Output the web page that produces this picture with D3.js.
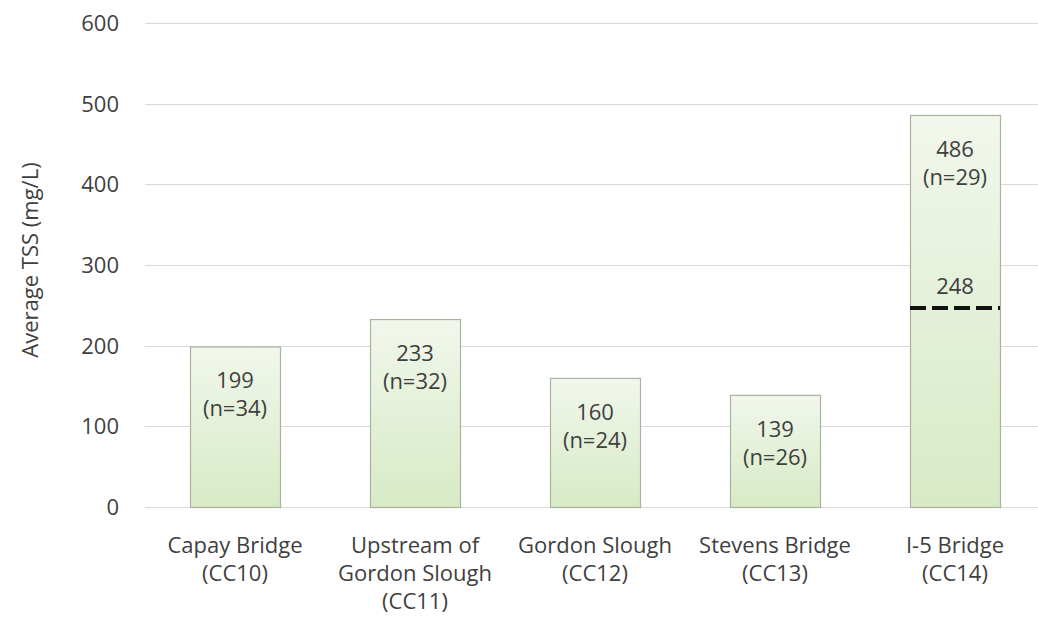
<!DOCTYPE html>
<html>
<head>
<meta charset="utf-8">
<script src="https://cdn.jsdelivr.net/npm/d3@7"></script>
<style>
  body { margin: 0; background: #fff; }
  text { font-family: "Open Sans", "Noto Sans", sans-serif; fill: #3f3f3f; }
</style>
</head>
<body>
<svg id="chart"></svg>
<script>
var width = 1038,
  height = 621,
  margin = { top: 23, right: -7, bottom: 114, left: 145 },
  fontSize = "22px";

// data
var sites = [
  ["Capay Bridge", "(CC10)"],
  ["Upstream of", "Gordon Slough", "(CC11)"],
  ["Gordon Slough", "(CC12)"],
  ["Stevens Bridge", "(CC13)"],
  ["I-5 Bridge", "(CC14)"]
];
var siteIds = ["CC10", "CC11", "CC12", "CC13", "CC14"];
var avgTss = [199, 233, 160, 139, 486];
var sampleCounts = [34, 32, 24, 26, 29];
var yTicks = [0, 100, 200, 300, 400, 500, 600];
var dashedSite = "CC14";
var dashedValue = 248;

var data = siteIds.map(function (id, i) {
  return { id: id, lines: sites[i], value: avgTss[i], n: sampleCounts[i] };
});

var svg = d3.select("#chart")
  .attr("width", width)
  .attr("height", height);

var x = d3.scaleBand()
  .domain(siteIds)
  .range([margin.left, width - margin.right])
  .paddingInner(0.5)
  .paddingOuter(0.25);

var y = d3.scaleLinear()
  .domain([0, 600])
  .range([height - margin.bottom, margin.top]);

var defs = svg.append("defs");
var grad = defs.append("linearGradient")
  .attr("id", "barFill")
  .attr("x1", 0).attr("y1", 0).attr("x2", 0).attr("y2", 1);
grad.append("stop").attr("offset", "0%").attr("stop-color", "#f1f7ec");
grad.append("stop").attr("offset", "100%").attr("stop-color", "#d7eac5");

// gridlines
svg.append("g")
  .selectAll("line")
  .data(yTicks)
  .enter().append("line")
  .attr("x1", margin.left)
  .attr("x2", width)
  .attr("y1", function (d) { return Math.round(y(d)) + 0.5; })
  .attr("y2", function (d) { return Math.round(y(d)) + 0.5; })
  .attr("stroke", "#d9d9d9")
  .attr("stroke-width", 1);

// y tick labels
svg.append("g")
  .selectAll("text")
  .data(yTicks)
  .enter().append("text")
  .attr("x", 119)
  .attr("y", function (d) { return y(d); })
  .attr("dy", "0.36em")
  .attr("text-anchor", "end")
  .style("font-size", fontSize)
  .text(function (d) { return d; });

svg.append("text")
  .attr("transform", "translate(38,260) rotate(-90)")
  .attr("text-anchor", "middle")
  .style("font-size", fontSize)
  .text("Average TSS (mg/L)");

// bars
svg.append("g")
  .selectAll("rect")
  .data(data)
  .enter().append("rect")
  .attr("x", function (d) { return x(d.id) + 0.5; })
  .attr("y", function (d) { return y(d.value) + 0.5; })
  .attr("width", x.bandwidth())
  .attr("height", function (d) { return y(0) - y(d.value); })
  .attr("fill", "url(#barFill)")
  .attr("stroke", "#a9b39f")
  .attr("stroke-width", 1.2);

// value labels
var labels = svg.append("g")
  .selectAll("text")
  .data(data)
  .enter().append("text")
  .attr("x", function (d) { return x(d.id) + x.bandwidth() / 2; })
  .attr("y", function (d) { return y(d.value) + 42; })
  .attr("text-anchor", "middle")
  .style("font-size", fontSize);
labels.append("tspan").text(function (d) { return d.value; });
labels.append("tspan")
  .attr("x", function (d) { return x(d.id) + x.bandwidth() / 2; })
  .attr("dy", 28)
  .text(function (d) { return "(n=" + d.n + ")"; });

// dashed reference line on I-5 Bridge
svg.append("line")
  .attr("x1", x(dashedSite))
  .attr("x2", x(dashedSite) + x.bandwidth())
  .attr("y1", y(dashedValue) + 1)
  .attr("y2", y(dashedValue) + 1)
  .attr("stroke", "#111")
  .attr("stroke-width", 4)
  .attr("stroke-dasharray", "16,6");

svg.append("text")
  .attr("x", x(dashedSite) + x.bandwidth() / 2)
  .attr("y", y(dashedValue) - 13)
  .attr("text-anchor", "middle")
  .style("font-size", fontSize)
  .text(dashedValue);

// x axis labels
var xl = svg.append("g")
  .selectAll("text")
  .data(data)
  .enter().append("text")
  .attr("text-anchor", "middle")
  .style("font-size", fontSize);
xl.selectAll("tspan")
  .data(function (d) { return d.lines.map(function (l) { return { id: d.id, t: l }; }); })
  .enter().append("tspan")
  .attr("x", function (d) { return x(d.id) + x.bandwidth() / 2; })
  .attr("y", function (d, i) { return 553 + i * 28; })
  .text(function (d) { return d.t; });
</script>
</body>
</html>
